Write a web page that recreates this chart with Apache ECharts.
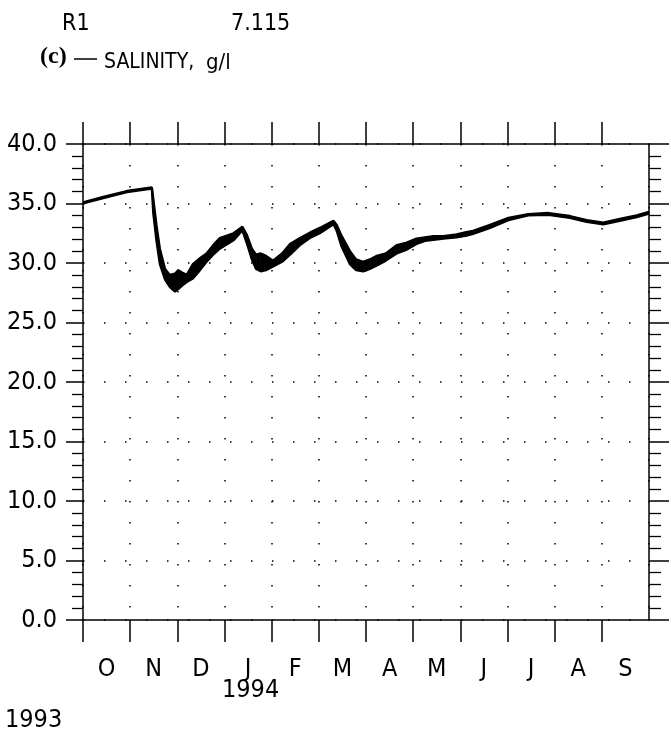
<!DOCTYPE html>
<html>
<head>
<meta charset="utf-8">
<script src="https://cdn.jsdelivr.net/npm/echarts@6/dist/echarts.min.js"></script>
<style>
  html, body { margin: 0; padding: 0; background: #fff; }
  #main { width: 671px; height: 734px; }
</style>
</head>
<body>
<div id="main"></div>
<script>
// month boundaries Oct 1993 .. Oct 1994 (tick positions)
const monthBounds = ['0', '1', '2', '3', '4', '5', '6', '7', '8', '9', '10', '11', '12']
const monthLabels = ['O', 'N', 'D', 'J', 'F', 'M', 'A', 'M', 'J', 'J', 'A', 'S']

// time in months since 1 Oct 1993
const monthPos = [
  0, 0.43, 0.93, 1.46,
  1.49, 1.56, 1.63, 1.74, 1.84, 1.95,
  2.02, 2.10, 2.20, 2.33, 2.48, 2.62, 2.76, 2.90,
  3.19, 3.38, 3.47, 3.58, 3.67, 3.77, 3.88,
  4.03, 4.22, 4.39, 4.60, 4.81,
  5.02, 5.31, 5.38, 5.48, 5.66, 5.79, 5.94,
  6.08, 6.23, 6.42, 6.65, 6.85,
  7.07, 7.25, 7.43, 7.64, 7.92,
  8.13, 8.27, 8.63,
  9.02, 9.44, 9.87,
  10.32, 10.68,
  11.03, 11.38, 11.74, 12.0
]
// salinity envelope (tidal band), g/l
const salUpper = [
  35.1, 35.55, 36.05, 36.35,
  35.4, 33.1, 31.2, 29.5, 29.0, 29.1,
  29.4, 29.2, 29.0, 29.9, 30.4, 30.8, 31.5, 32.1,
  32.5, 33.05, 32.4, 31.2, 30.7, 30.8, 30.6,
  30.2, 30.8, 31.6, 32.1, 32.55,
  32.95, 33.55, 33.2, 32.3, 31.0, 30.3, 30.1,
  30.3, 30.6, 30.8, 31.5, 31.7,
  32.05, 32.15, 32.25, 32.25, 32.4,
  32.6, 32.7, 33.2,
  33.8, 34.1, 34.2,
  33.95, 33.6,
  33.4, 33.7, 34.0, 34.3
]
const salLower = [
  35.0, 35.45, 35.95, 36.25,
  34.2, 31.8, 29.9, 28.6, 28.0, 27.6,
  27.8, 28.1, 28.4, 28.7, 29.4, 30.1, 30.7, 31.2,
  31.9, 32.75, 31.7, 30.3, 29.5, 29.3, 29.4,
  29.7, 30.1, 30.7, 31.5, 32.1,
  32.5, 33.25, 32.7, 31.4, 29.9, 29.4, 29.3,
  29.5, 29.8, 30.2, 30.8, 31.1,
  31.6, 31.85, 31.95, 32.05, 32.15,
  32.3, 32.45, 32.95,
  33.6, 34.0, 34.05,
  33.8, 33.45,
  33.25, 33.55, 33.85, 34.15
]

const FONT = '"Liberation Sans Narrow", "DejaVu Sans Condensed", sans-serif'
const dotted = { type: [1.5, 19.5], width: 1.5, color: '#000' }
const axisBlack = { color: '#000', width: 1.5 }

let bandData = monthPos.map((m, i) => [m, salUpper[i], salLower[i]])

// 潮汐带：相邻两点之间画一个四边形
let renderBand = (params, api) => {
  let i = params.dataIndex
  if (i === 0) return null
  let m0 = monthPos[i - 1]
  let m1 = api.value(0)
  let pts = [
    api.coord([m0, salUpper[i - 1]]),
    api.coord([m1, api.value(1)]),
    api.coord([m1, api.value(2)]),
    api.coord([m0, salLower[i - 1]]),
  ]
  return {
    type: 'polygon',
    shape: { points: pts },
    style: { fill: '#000', stroke: '#000', lineWidth: 0.8 },
  }
}

let tickAxis = (pos) => ({
  type: 'category',
  data: monthBounds,
  boundaryGap: false,
  position: pos,
  axisLine: { show: true, lineStyle: axisBlack },
  axisTick: { show: true, interval: (i) => i < 12, length: 22, lineStyle: axisBlack },
  axisLabel: { show: false },
  splitLine: { show: false },
})

let lineSeries = (name, vals) => ({
  name: name,
  type: 'line',
  xAxisIndex: 0,
  yAxisIndex: 0,
  data: monthPos.map((m, i) => [m, vals[i]]),
  symbol: 'none',
  lineStyle: { color: '#000', width: 2.3 },
  z: 6,
})

let myChart = echarts.init(document.getElementById('main'), null, { renderer: 'canvas' })
let option = {
  animation: false,
  backgroundColor: '#fff',
  grid: { left: 83, right: 22, top: 144, bottom: 114 },
  xAxis: [
    {
      type: 'value',
      min: 0,
      max: 12,
      interval: 1,
      axisLine: { show: false },
      axisTick: { show: false },
      axisLabel: { show: false },
      splitLine: { show: true, lineStyle: dotted },
    },
    tickAxis('bottom'),
    tickAxis('top'),
    {
      type: 'category',
      data: monthLabels,
      boundaryGap: true,
      position: 'bottom',
      axisLine: { show: false },
      axisTick: { show: false },
      axisLabel: { fontSize: 25, margin: 37, color: '#000', fontFamily: FONT },
      splitLine: { show: false },
    },
  ],
  yAxis: [
    {
      type: 'value',
      min: 0,
      max: 40,
      interval: 5,
      position: 'left',
      axisLine: { show: true, lineStyle: axisBlack },
      axisTick: { show: true, length: 17, lineStyle: axisBlack },
      minorTick: { show: true, splitNumber: 5, length: 11, lineStyle: { color: '#000', width: 1.3 } },
      axisLabel: {
        formatter: (v) => v.toFixed(1),
        fontSize: 25,
        margin: 26,
        color: '#000',
        fontFamily: FONT,
      },
      splitLine: { show: true, lineStyle: dotted },
    },
    {
      type: 'value',
      min: 0,
      max: 40,
      interval: 5,
      position: 'right',
      axisLine: { show: true, lineStyle: axisBlack },
      axisTick: { show: true, length: 20, lineStyle: axisBlack },
      minorTick: { show: true, splitNumber: 5, length: 12, lineStyle: { color: '#000', width: 1.3 } },
      axisLabel: { show: false },
      splitLine: { show: false },
    },
  ],
  graphic: [
    { type: 'text', left: 62, top: 13, style: { text: 'R1', font: '23px ' + FONT, fill: '#000' } },
    { type: 'text', left: 231, top: 13, style: { text: '7.115', font: '23px ' + FONT, fill: '#000' } },
    { type: 'text', left: 40, top: 45, style: { text: '(c)', font: 'bold 24px "Liberation Serif", serif', fill: '#000' } },
    { type: 'line', shape: { x1: 74, y1: 59, x2: 97, y2: 59 }, style: { stroke: '#000', lineWidth: 1.5 } },
    { type: 'text', left: 104, top: 52, style: { text: 'SALINITY,', font: '21px ' + FONT, fill: '#000' } },
    { type: 'text', left: 206, top: 52, style: { text: 'g/l', font: '22px ' + FONT, fill: '#000' } },
    { type: 'text', left: 5, top: 708, style: { text: '1993', font: '25px ' + FONT, fill: '#000' } },
    { type: 'text', left: 222, top: 678, style: { text: '1994', font: '25px ' + FONT, fill: '#000' } },
  ],
  series: [
    {
      name: 'band',
      type: 'custom',
      xAxisIndex: 0,
      yAxisIndex: 0,
      data: bandData,
      renderItem: renderBand,
      z: 5,
    },
    lineSeries('upper', salUpper),
    lineSeries('lower', salLower),
  ],
}
myChart.setOption(option)
</script>
</body>
</html>
